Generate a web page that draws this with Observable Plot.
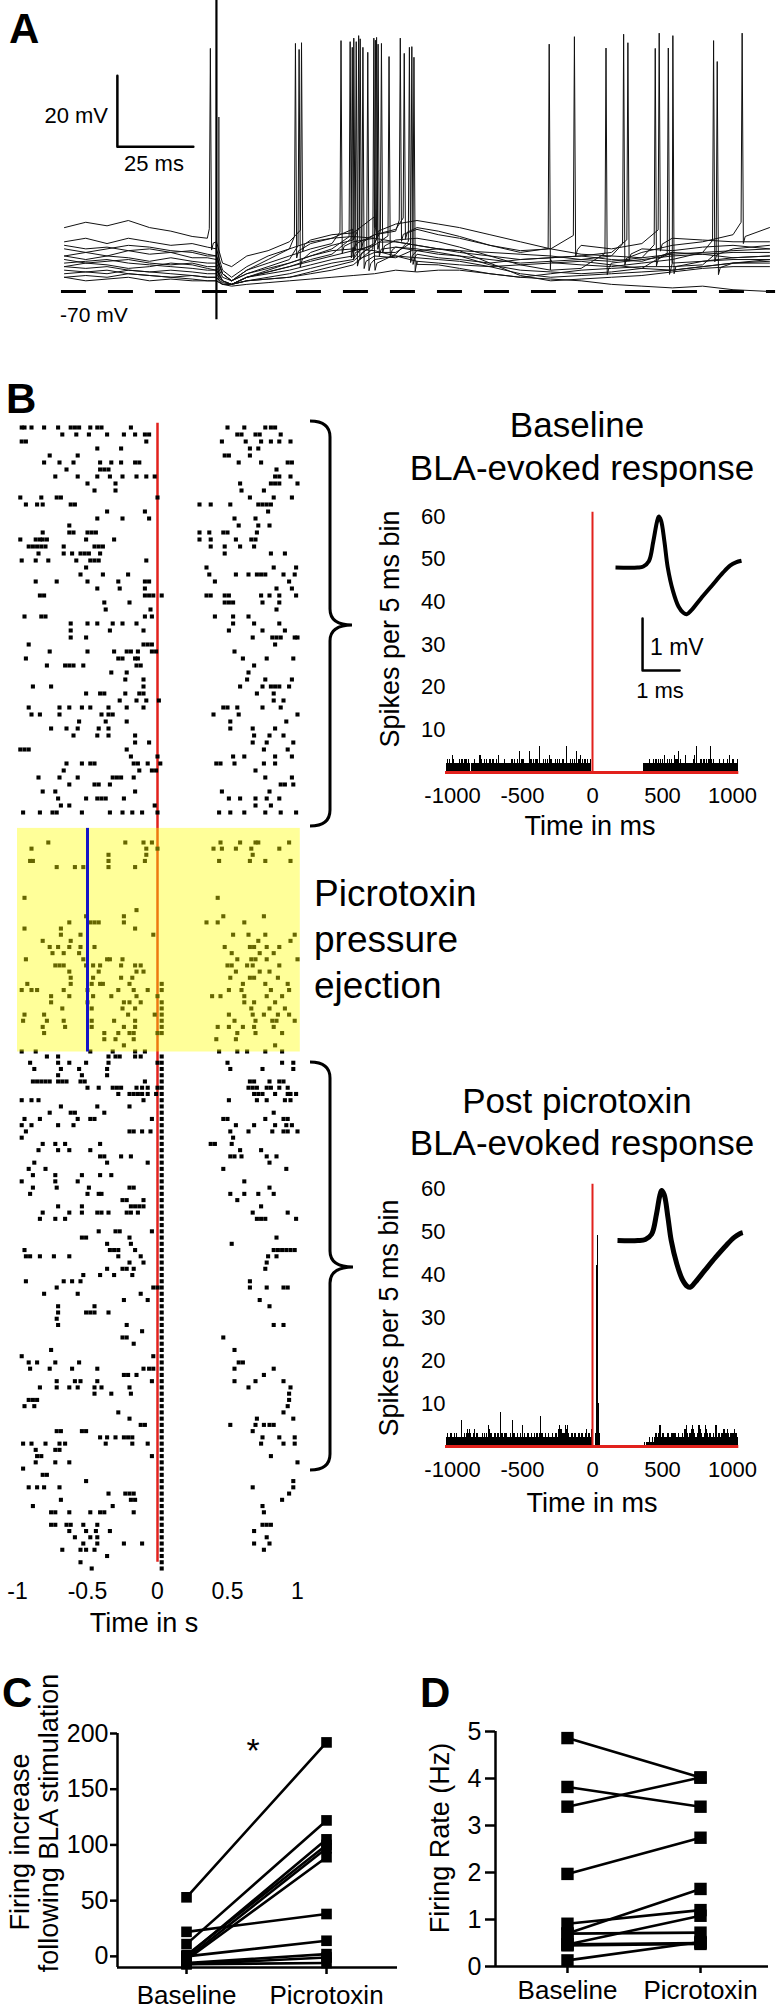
<!DOCTYPE html>
<html><head><meta charset="utf-8">
<script src="https://cdn.jsdelivr.net/npm/d3@7"></script>
<script src="https://cdn.jsdelivr.net/npm/@observablehq/plot@0.6"></script>
<style>
html,body{margin:0;padding:0;background:#fff;}
#fig{position:relative;width:783px;height:2011px;overflow:hidden;background:#fff;}
#fig svg{overflow:visible;}
</style></head><body><div id="fig"></div>
<script>
// ---------------- DATA ----------------
// Panel A: membrane potential traces (mV) at knot times (ms), spike times/peaks
const traceTimes = [-50,-43,-36,-29,-22,-15,-8,-3,0,2,5,10,17,24,31,38,45,52,59,66,73,80,90,100,110,120,130,140,150,160,170,182];
const traceV = [
 [-52,-50.5,-51.5,-50,-52,-53,-54.5,-55,-56,-62,-63,-60,-58.5,-56,-55.5,-54,-53.5,-52,-51,-50,-51,-52,-54,-56,-58,-59.5,-60,-59,-57,-56,-54,-52],
 [-56,-55,-56.5,-55,-56,-57,-56.5,-57.5,-58,-64,-66,-63,-60,-58,-56.5,-55,-55.5,-54,-53,-52.5,-54,-55,-57,-58.5,-58,-57,-58,-56.5,-55,-55.5,-56,-56],
 [-57,-58,-57.5,-58.5,-58,-59,-58.5,-59.5,-60,-65,-67,-64,-62,-60,-58,-56.5,-56,-55,-56,-57,-58,-59,-60,-61,-60.5,-60,-59,-58,-58.5,-57.5,-57,-58],
 [-60,-59,-60,-58.5,-59.5,-59,-60.5,-60.5,-61,-65,-67,-65,-63,-61,-59,-57,-55.5,-54,-52.5,-52,-53,-54.5,-57,-59,-61,-62.5,-63,-62,-61,-59,-58,-57],
 [-60,-61,-60,-60.5,-61.5,-60.5,-61.5,-62,-62,-66,-67,-65,-63.5,-62,-60,-58,-57.5,-57,-57.5,-58.5,-59.5,-60,-61,-62,-61.5,-61,-60,-60.5,-59,-59.5,-60.5,-60],
 [-61,-62,-61.5,-61,-62,-62.5,-62,-63,-63,-67,-68,-66,-64.5,-63,-61,-59.5,-58,-56.5,-55.5,-55,-56,-57.5,-60,-62.5,-64,-63.5,-62,-61,-60,-59.5,-59,-59],
 [-62,-61.5,-61,-62,-62.5,-63,-63.5,-64,-64,-67,-68,-66,-65,-64,-62.5,-61,-60,-59,-59,-59.5,-60.5,-61,-62,-61,-60.5,-60,-61,-61.5,-62,-61.5,-60.5,-60],
 [-63,-63.5,-63,-64,-64.5,-64,-64.5,-65,-65,-67.5,-68,-66,-64.5,-63,-61.5,-60,-58.5,-57,-57.5,-58,-59,-60,-62.5,-64,-64.5,-65,-64.5,-63.5,-62,-61.5,-61,-61],
 [-64,-64.5,-65,-64,-64.5,-65,-65.5,-66,-66,-68,-68,-67,-66,-65,-63.5,-62,-61,-60,-60.5,-61.5,-62.5,-63.5,-65,-66,-65,-64,-63.5,-63,-63,-62.5,-62,-62],
 [-65,-64.5,-64,-65,-65.5,-66,-65.5,-66,-66,-68,-68,-67,-66.5,-66,-64.5,-63,-61.5,-61,-60,-60.5,-61,-61.5,-63,-65,-66,-65.5,-65,-64.5,-64,-63,-62,-61],
 [-66,-65.5,-66,-65,-65.5,-66,-66.5,-67,-67,-68,-68,-67,-66.5,-66,-65,-64,-62.5,-61,-59.5,-58.5,-58,-58.5,-62,-65.5,-67,-66.5,-66,-65.5,-64.5,-63.5,-63,-63],
 [-66,-67,-66.5,-66,-67,-66.5,-67,-67,-67,-68,-68.5,-68,-67.5,-67,-66.5,-66,-65.5,-65,-64,-64.5,-64,-64,-65,-66,-66.5,-67,-68,-68.5,-69,-68.5,-69.5,-70],
 [-58,-59,-58,-57,-57.5,-58.5,-59,-60,-60,-65,-67,-64,-61,-58,-56,-55,-54.5,-55,-56,-57,-58,-58.5,-59,-59.5,-60,-61,-61.5,-60.5,-59.5,-59,-58.5,-58],
 [-63,-62,-62.5,-63.5,-63,-62,-62.5,-63.5,-64,-67,-68,-66,-64,-62,-60,-58.5,-58,-58.5,-60,-61.5,-62,-62.5,-63,-62.5,-62,-61.5,-62.5,-63.5,-64,-63,-62,-61.5]
];
const spikeTrace = [0,1,3,0,2,4,5,1,6,7,3,8,9,10,0,2,4,5,7,1,3,10,6,8,3,1,5,0,2,4,1,7,6,3,8,0];
const spikeTime  = [-2,26,27.2,28,41,44,44.7,45.2,46,46.8,47.3,48.2,49.8,51.8,52.3,52.7,53.2,54.3,56.8,60.5,61.8,63.5,64.3,65,109.5,117.8,128.2,134,135.4,144.4,145.7,148.7,150.2,163.6,164.8,173];
const spikePeak  = [-1.5,-0.1,-1.8,0.1,0.7,0.4,-1.2,1.4,0.4,2.1,1.2,-1.2,-2.6,1.4,0.8,1.6,-0.3,-0.1,-3.8,1.4,-2.9,-1.2,-1,-4,-0.3,1.8,-1.4,2.5,0.1,-1.5,2.8,-1.4,2.1,0.7,-5.2,2.8];
const restingLevel = -70;           // dashed line, mV
const scaleBarA = {t0: -32.6, v0: -29.2, dt: 25, dv: 20};   // 25 ms, 20 mV

// Panel B raster: spike times in hundredths of a second, one string per trial
const baselineTrials = [
"-97 -95 -90 -81 -71 -62 -59 -56 -48 -43 -40 -19 50 62 77 81 84",
"-68 -58 -49 -36 -24 -16 -9 -6 57 60 70 73 88",
"-97 -94 -8 46 63 74 81 87 95",
"-43 -26 66 72",
"-77 -57 48 51 66",
"-81 -70 -60 -41 -33 -26 -16 -13 58 74 93 96",
"-65 -41 -38 -35 85",
"-73 -57 -43 -34 -25 -15 -8 -2 84 87 95",
"-50 -30 59 81 84 87 100",
"-45 -30 60 76",
"-98 -83 -72 -69 0 66 83 96",
"-94 -86 -82 -62 -59 30 38 52 72 75 78 81",
"-36 -9 79",
"-43 -25 -6 55 70",
"-63 58 72 80",
"-82 -63 -60 -50 -47 -44 30 37 47 50 71",
"-98 -87 -84 -82 -79 -51 -31 30 38 56 67 70",
"-92 -89 -86 -83 -80 -67 -45 -42 -39 38 48 59 69",
"-85 -67 -61 -55 -52 -49 -41 48 81 91",
"-97 -87 -78 -58 -48 -45 -42 -8",
"-51 35 83 99",
"-55 -39 -21 37 56 65 71 74 77 90 98",
"-87 -72 -50 -28 -9 -6 41 94",
"-43 -27 -9 85 96",
"-84 -81 -9 -6 -3 3 35 38 48 51 74 80 87 99",
"-38 -20 48 51 54 75 87",
"-37 -5 85",
"-95 -83 -80 -9 -4 41 54 65",
"-62 -50 -43 -32 -25 -15 54 69 87",
"-62 -34 -10 51 75 91",
"-62 -51 68 82 85 88 98 100",
"-92 -10 -7 -4 84",
"-77 -50 -31 -22 -19 -14 -4 -1 55",
"-94 -28 -25 -16 -14 61 78 97",
"-79 -66 -63 -60 -53 -15 -12 69",
"-33 -22 65",
"-23 -10 64 77 96",
"-89 -76 -10 59 75 81 84 87 94",
"-51 -41 -38 -23 -13 -10 71 83",
"-27 -15 -8 1 83 90",
"-92 -70 -63 -54 -48 -35 -22 -10 47 50 57 75 88",
"-90 -84 -70 -40 -35 -32 40 58 100",
"-56 -37 -22 52 92",
"-76 -65 -57 -42 -35 52 68 84",
"-60 -43 -35 -16 69 80 90",
"-16 -6 68 78 97",
"-98 -95 -92 -22 76 93",
"-19 0 54 62 84 96",
"-65 -54 -48 -45 -17 -14 -7 2 42 45 55 76 84",
"-67 -13 -4 -1 70",
"-85 -70 -57 -32 -29 -26 -17 77 96",
"-63 -45 -42 -34 88 91 97",
"-82 -73 -16 46 80",
"-71 -51 -43 -40 -37 -24 51 59 70 78 87",
"-69 -63 -2 70 81",
"-96 -84 -75 -72 -54 -34 -25 -18 -11 0 44 52 62 77 88 99"
];
const picrotoxinTrials = [
"-78 -23 -10 -4 45 59 70 72 94",
"-90 -8 0 40 46 56 67 87",
"-35 -8 68",
"-91 -89 -35 -9 44 66 77 95",
"-72 -59 -53 -35 -16",
"", "", "", "",
"-95 43",
"",
"-15",
"-51 -24 47 76",
"-63 -48 -45 -42 -24 35 43 62",
"-95 -69 -16",
"-69 -55 -3 54 65 77 98",
"-82 -62 72 95",
"-77 -71 -63 -55 -45 48 66 69 78 87",
"-75 -67 -56 53 73 83",
"-94 -53 -36 -34 -25 57 67 70 78 100",
"-73 -70 -67 -51 -46 -41 -26 -16 -12 50 53 64 68 87",
"-63 -42 -15 -10 56 73 80",
"-62 -46 -26 -18 52 66 69 86",
"-93 -62 -47 -41 -39 -20 3 61 77 93",
"-97 -90 -86 -67 -50 -28 -17 -7 3 51 60 81 94",
"-76 -63 -46 -33 -15 0 39 45 62 78 89",
"-76 -50 -24 -20 -12 3 62 69 84",
"-68 -47 -25 -16 3 67 80 91",
"-95 -81 -21 -2 3 51 68 76 86 94",
"-96 -79 -67 -47 -31 -16 3 55 70 82 85 98",
"-82 -66 -47 -24 -16 3 43 51 61 69 83",
"-81 -38 -28 -20 -17 0 3 57 70 89",
"-38 -30 -17 42 56",
"-24 84",
"-97 -87 -48 -32 -16 -9 44 57 64 77 89"
];
const postTrials = [
"-79 -71 -35 -30 -27 -16 -12 3",
"-91 -71 -63 -51 -35 0 3 50 89 97",
"-88 -69 -56 -36 3 52 75 97",
"-71 -54 -36 3",
"-89 -86 -83 -80 -77 -71 -68 -65 -55 -52 -9 3 66 69 80 87 90",
"-50 -42 -32 -29 -26 -15 -11 -7 0 3 65 68 71 78 81 87 93",
"-28 -20 -17 -14 -11 -7 -1 3 69 72 75 84 93 95 99",
"-97 -90 -85 -10 3 51 71 78 91 95",
"-69 -43 -20 3",
"-77 -62 -59 -38 3 83",
"-95 -84 -57 -48 -45 -4 3 47 50 77 90 93",
"-97 -90 -71 -60 3 56 69 84 92 96",
"-94 -20 -17 -11 -5 3 52 65 82 90 93 100",
"-97 3 54",
"-82 -73 -66 -41 3 38 41 53",
"-85 -71 -63 -48 3 59 74",
"-41 -38 -26 -19 3 52 55 60 78 85",
"-88 -36 -7 3 80",
"-92 -80 3 47 92",
"-89 -73 -54 -41 -33 3",
"-97 -73 -57 3 62",
"-89 -72 -49 -20 -17 3 80",
"-91 -50 -42 -40 3 52 62 72 83",
"-25 -22 -10 3 57",
"-71 -54 -19 -16 -13 -10 3 74",
"-82 -63 -54 -43 -40 -35 -22 -19 -14 3 68 93",
"-84 -73 -66 3 71 74 77 99",
"3",
"-42 -30 -27 -4 3",
"-54 -51 -20 3 85",
"-36 -19 3 53",
"-95 -34 -31 -28 -16 3 83 86 89 92 95 98",
"-94 -91 -84 -74 -63 -28 -12 3 79 85",
"-20 -10 3 78",
"-36 -25 -22 -17 3 77",
"-53 -41 -31 -18 3",
"-94 -67 -61 -55 3 66",
"-72 -3 0 3 66 78 90 93",
"-81 -57 -12 3",
"-24 -7 3 73",
"-71 -45 3 80",
"-71 -51 -48 -45 -35 3",
"-72 3",
"-71 -22 3 83 90",
"-11 3",
"-25 -22 3 47",
"-17 3",
"-76 3 55",
"-97 -3 3",
"-92 -86 -73 -56 3 58 61",
"-91 -77 -61 -43 -10 -6 -3 3 55 83",
"-24 -21 -15 3 76",
"-72 -59 -55 -43 -4 3 55 70 90",
"-84 -72 -63 -57 -45 -40 -20 3 65 95",
"-45 -33 -19 3 94",
"-92 -89 -86 3 94",
"-95 -88 3 93",
"-28 3 90",
"-20 3 71 97",
"-12 -9 3 52 70 76 80 83",
"-72 -69 -54 -51 3 68",
"-41 -36 -30 -24 -21 -18 3 75 87 98",
"-96 -90 -80 -70 -66 -37 -18 -7 3 74 90 98",
"-87 -73 -70 3",
"-86 -83 -4 3 81",
"-87 -73 -63 3 100",
"-96 3",
"-82 -79 3",
"-51 3 97",
"-92 -86 -81 -70 3 68 97",
"-35 -23 -20 -17 3 94",
"-69 -19 -16 3 89",
"-89 -32 3 75",
"-76 -73 -63 -48 -41 -38 -17 3 76",
"3",
"-76 -73 -65 -62 -53 -43 3 75 78 81",
"-63 -51 -44 -34 3 69",
"-59 -48 -43 3 78",
"-53 -43 -24 -11 3 69 80",
"-68 -55 -51 -45 3 76",
"-36 3",
"-55 3",
"-47 3"
];
const ejection = {t1: -1.0, t2: 1.02, trial1: 55.53, trial2: 90.1, pressure: -0.5};
const rasterTicks = [-1, -0.5, 0, 0.5, 1];

// PSTH: spikes per 5 ms bin, bins starting at -1050 ms
const binWidth = 5, histStart = -1050;
const baselineLeft = "0023223232" +
 "42322322023223322343" + "32232202322332232224" + "42322032232223322323" + "23232242322322332232" +
 "23223232232323235223" + "32322322325233223223" + "32326322323223223224" + "32322323223223232323" +
 "23262322332232322562" + "32342232233223222320";
const baselineRight =
 "00000000000000000000" + "00000000000000000000" + "00000000000000000020" + "00000000000202202232" +
 "22322323223232332322" + "32242323223223232423" + "32352232322324232232" + "23223342362322323223" +
 "32232233263223232232" + "23322423322323224232" + "323224232";
const postLeft = "0023232323" +
 "23232232322326232322" + "32434232323242323232" + "23232232732354323222" + "32323232383232323342" +
 "23232663232323252342" + "53232323232423232322" + "32323273232323232322" + "23232323232545454323" +
 "32545432323232323262" + "32323232323242323254";
const postRight = [
 0,0,0,0,3,10,42,49,28,10,3,0,0,0,0,0,0,0,0,0,
 0,0,0,0,0,0,0,0,0,0,0,0,0,0,0,0,0,0,0,0,
 0,0,0,0,0,0,0,0,0,0,0,0,0,0,0,0,0,0,0,0,
 0,0,0,0,0,0,0,0,0,0,0,0,0,0,1,1,0,1,1,1,
 1,1,2,1,1,2,2,1,2,2,3,2,3,2,3,3,5,5,3,2,
 3,2,3,2,2,3,2,3,2,3,2,3,2,3,3,2,3,3,5,3,
 2,3,2,3,2,3,2,2,3,3,2,3,4,4,5,4,3,2,3,3,
 3,2,4,5,4,4,3,2,3,2,3,4,5,5,4,3,3,2,3,2,
 3,4,5,4,3,2,2,3,2,3,2,3,2,3,2,4,5,5,3,2,
 3,2,3,2,3,2,3,4,4,4,3,2,3,4,3,3,2,3,2,3,
 3,2,3,4,3,2,3,2,3
];
const histTicksX = [-1000, -500, 0, 500, 1000];
const histTicksY = [10, 20, 30, 40, 50, 60];

// Spike waveform insets (ms, mV)
const wave1T = [0,0.6,0.75,0.9,1.02,1.12,1.17,1.23,1.32,1.41,1.55,1.7,1.83,1.92,2.05,2.3,2.6,2.9,3.1,3.25,3.4];
const wave1V = [0,0,0.02,0.12,0.5,0.88,0.98,0.9,0.5,0,-0.45,-0.75,-0.87,-0.9,-0.82,-0.6,-0.35,-0.1,0.04,0.1,0.13];
const wave2T = [0,0.55,0.75,0.92,1.05,1.14,1.19,1.26,1.36,1.45,1.6,1.75,1.88,1.96,2.1,2.35,2.65,2.95,3.15,3.3,3.38];
const wave2V = [0,0,0.02,0.12,0.5,0.86,0.96,0.88,0.45,0,-0.45,-0.75,-0.88,-0.9,-0.8,-0.58,-0.32,-0.08,0.06,0.13,0.15];
const scaleBarB = {t0: 0.73, v0: -1.98, dt: 1, dv: 1};

// Panels C and D
const condNames = ["Baseline", "Picrotoxin"];
const cBaseline = [53, 22, 11, 0, 1, -2, -3, 0, -6, -7, -7];
const cPicro    = [192, 38, 122, 105, 100, 97, 89, 14, 2, -1, -6];
const cTicks = [0, 50, 100, 150, 200];
const dBaseline = [4.86, 3.82, 3.40, 1.97, 0.91, 0.70, 0.47, 0.70, 0.47, 0.45, 0.13];
const dPicro    = [4.02, 3.40, 4.02, 2.74, 1.20, 1.65, 1.08, 0.72, 0.50, 0.48, 0.52];
const dTicks = [0, 1, 2, 3, 4, 5];

// ---------------- RENDER ----------------
const FONT = '"Liberation Sans", Arial, Helvetica, sans-serif';
const RED = "#e2211c";
const fig = document.getElementById("fig");
const baseStyle = {fontFamily: FONT, fontSize: "22px", background: "transparent", overflow: "visible", color: "black"};
function mount(el, left, top) {
  el.style.position = "absolute"; el.style.left = left + "px"; el.style.top = top + "px";
  el.style.maxWidth = "none";
  fig.appendChild(el);
}

// Panel A
const tracePts = [];
traceV.forEach((vals, i) => {
  const interp = d3.scaleLinear().domain(traceTimes).range(vals);
  const pts = traceTimes.map((t, k) => ({trace: i, t, v: vals[k]}));
  spikeTrace.forEach((tr, s) => {
    if (tr !== i) return;
    const ts = spikeTime[s], vb = interp(ts);
    pts.push({trace: i, t: ts - 0.35, v: vb + 3});
    pts.push({trace: i, t: ts, v: spikePeak[s]});
    pts.push({trace: i, t: ts + 0.4, v: vb - 3});
    pts.push({trace: i, t: ts + 1.0, v: vb - 1});
  });
  pts.sort((a, b) => a.t - b.t);
  tracePts.push(...pts);
});
const sbA = [
  {t: scaleBarA.t0, v: scaleBarA.v0 + scaleBarA.dv},
  {t: scaleBarA.t0, v: scaleBarA.v0},
  {t: scaleBarA.t0 + scaleBarA.dt, v: scaleBarA.v0}
];
mount(Plot.plot({
  width: 783, height: 330, marginLeft: 64, marginRight: 14, marginTop: 0, marginBottom: 0,
  x: {domain: [-50, 182], axis: null}, y: {domain: [-81, 12], axis: null},
  style: baseStyle,
  marks: [
    Plot.ruleY([restingLevel], {x1: -51, x2: 184, stroke: "black", strokeWidth: 3, strokeDasharray: "25,22"}),
    Plot.line(tracePts, {x: "t", y: "v", z: "trace", stroke: "#111", strokeWidth: 1}),
    Plot.ruleX([0], {y1: -78, y2: 12, stroke: "black", strokeWidth: 2.2}),
    Plot.ruleX([0.8], {y1: -67, y2: -21, stroke: "black", strokeWidth: 1.2}),
    Plot.line(sbA, {x: "t", y: "v", stroke: "black", strokeWidth: 2.5})
  ]
}), 0, 0);

// Panel B raster (trial order mapped to vertical depth; sections have different row spacing)
const parse = s => s.trim() ? s.trim().split(/\s+/).map(Number) : [];
const allTrials = [...baselineTrials, ...picrotoxinTrials, ...postTrials];
const nB = baselineTrials.length, nP = picrotoxinTrials.length, nA = allTrials.length;
const depth = d3.scaleLinear()
  .domain([0, nB - 1, nB, nB + nP - 1, nB + nP, nA - 1])
  .range([0, 385, 415, 624, 629, 1141]);
const spikesRaster = allTrials.flatMap((s, i) => parse(s).map(h => ({d: depth(i), t: h / 100})));
const ej = {t1: ejection.t1, t2: ejection.t2, d1: depth(ejection.trial1), d2: depth(ejection.trial2), pressure: ejection.pressure};
mount(Plot.plot({
  width: 320, height: 1280, marginLeft: 17, marginRight: 23, marginTop: 47, marginBottom: 92,
  x: {domain: [-1, 1]},
  y: {domain: [0, 1141], reverse: true, axis: null},
  style: baseStyle,
  marks: [
    Plot.ruleX([0], {y1: depth(-0.6), y2: depth(nA - 2), stroke: RED, strokeWidth: 2.5}),
    Plot.dot(spikesRaster, {x: "t", y: "d", symbol: "square", r: 2.3, fill: "black", stroke: "none"}),
    Plot.rect([ej], {x1: "t1", x2: "t2", y1: "d1", y2: "d2", fill: "#ffff00", fillOpacity: 0.4}),
    Plot.ruleX([ej], {x: "pressure", y1: "d1", y2: "d2", stroke: "#1414c8", strokeWidth: 3}),
    Plot.axisX({ticks: rasterTicks, tickFormat: d => String(d), tickSize: 0, tickPadding: 14, fontSize: 23, label: null})
  ]
}), 0, 380);

// PSTHs
function psth(counts, top, marginTop) {
  const bins = counts.map((n, i) => ({t: histStart + i * binWidth, n}));
  bins.push({t: histStart + counts.length * binWidth, n: counts[counts.length - 1]});
  return mount(Plot.plot({
    width: 453, height: 360, marginLeft: 122, marginRight: 51, marginTop, marginBottom: 68,
    x: {domain: [-1000, 1000]}, y: {domain: [0, 60]},
    style: baseStyle,
    marks: [
      Plot.areaY(bins, {x: "t", y: "n", curve: "step-after", fill: "black", shapeRendering: "crispEdges"}),
      Plot.ruleY([0], {x1: histStart, x2: histStart + counts.length * binWidth, stroke: RED, strokeWidth: 3}),
      Plot.ruleX([0], {y1: 0, y2: 61, stroke: RED, strokeWidth: 2}),
      Plot.axisX({ticks: histTicksX, tickFormat: d => String(d), tickSize: 0, tickPadding: 15, fontSize: 22, label: null}),
      Plot.axisY({ticks: histTicksY, tickFormat: d => String(d), tickSize: 0, tickPadding: 7, fontSize: 22, label: null})
    ]
  }), 330, top);
}
psth([...baselineLeft.split("").map(Number), ...baselineRight.split("").map(Number)], 480, 36);
psth([...postLeft.split("").map(Number), ...postRight], 1154, 34);

// Waveform insets
const w1 = wave1T.map((t, i) => ({t, v: wave1V[i]}));
const w2 = wave2T.map((t, i) => ({t, v: wave2V[i]}));
const sbB = [
  {t: scaleBarB.t0, v: scaleBarB.v0 + scaleBarB.dv},
  {t: scaleBarB.t0, v: scaleBarB.v0},
  {t: scaleBarB.t0 + scaleBarB.dt, v: scaleBarB.v0}
];
mount(Plot.plot({
  width: 160, height: 220, margin: 0,
  x: {domain: [0, 3.4], range: [15, 141], axis: null},
  y: {domain: [-2.6, 1.3], range: [212.2, 9.4], axis: null},
  style: baseStyle,
  marks: [
    Plot.line(w1, {x: "t", y: "v", curve: "catmull-rom", stroke: "black", strokeWidth: 4, strokeLinecap: "butt"}),
    Plot.line(sbB, {x: "t", y: "v", stroke: "black", strokeWidth: 2.5})
  ]
}), 600, 490);
mount(Plot.plot({
  width: 160, height: 160, margin: 0,
  x: {domain: [0, 3.4], range: [17, 143], axis: null},
  y: {domain: [-1.5, 1.3], range: [158, 12.4], axis: null},
  style: baseStyle,
  marks: [
    Plot.line(w2, {x: "t", y: "v", curve: "catmull-rom", stroke: "black", strokeWidth: 5, strokeLinecap: "butt"})
  ]
}), 600, 1160);

// Panels C and D
function pairedPlot(base, pic, ticks, yDom, xDom, opts, left) {
  const data = base.flatMap((b, i) => [{unit: i, cond: 0, v: b}, {unit: i, cond: 1, v: pic[i]}]);
  mount(Plot.plot({
    width: opts.width, height: 311, marginLeft: opts.ml, marginRight: opts.mr, marginTop: opts.mt, marginBottom: opts.mb,
    x: {domain: xDom}, y: {domain: yDom},
    style: baseStyle,
    marks: [
      Plot.ruleX([xDom[0]], {stroke: "black", strokeWidth: 2.5}),
      Plot.ruleY([yDom[0]], {stroke: "black", strokeWidth: 2.5}),
      Plot.line(data, {x: "cond", y: "v", z: "unit", stroke: "black", strokeWidth: 2.6}),
      Plot.dot(data, {x: "cond", y: "v", symbol: "square", r: opts.r, fill: "black", stroke: "none"}),
      Plot.axisY({ticks, tickFormat: d => String(d), tickSize: opts.ts, tickPadding: opts.tp, strokeWidth: 2.5, fontSize: 25, label: null}),
      Plot.axisX({ticks: [0, 1], tickFormat: i => condNames[i], tickSize: 7, tickPadding: opts.xp, strokeWidth: 2.5, fontSize: 26, label: null})
    ]
  }), left, 1700);
}
pairedPlot(cBaseline, cPicro, cTicks, [-10, 200], [-0.493, 1.507], {width: 400, ml: 117, mr: 3, mt: 33, mb: 44, r: 6, ts: 7, tp: 2, xp: 11}, 0);
pairedPlot(dBaseline, dPicro, dTicks, [0, 5], [-0.541, 1.511], {width: 393, ml: 105, mr: 15, mt: 31, mb: 45, r: 7, ts: 10, tp: 4, xp: 7}, 390);

// Text annotations and braces
function brace(x0, yT, yB, yM, xs, xt) {
  const r = 16;
  return `M${x0},${yT} Q${xs},${yT} ${xs},${yT + r} L${xs},${yM - r} Q${xs},${yM} ${xt},${yM} Q${xs},${yM} ${xs},${yM + r} L${xs},${yB - r} Q${xs},${yB} ${x0},${yB}`;
}
const ov = document.createElementNS("http://www.w3.org/2000/svg", "svg");
ov.setAttribute("width", 783); ov.setAttribute("height", 2011);
ov.setAttribute("style", `position:absolute;left:0;top:0;font-family:${FONT.replace(/"/g, "'")};`);
ov.innerHTML = `
<text x="9" y="43" font-size="42" font-weight="bold">A</text>
<text x="108" y="123" font-size="22" text-anchor="end">20 mV</text>
<text x="154" y="171" font-size="22" text-anchor="middle">25 ms</text>
<text x="60" y="322" font-size="21">-70 mV</text>
<text x="6" y="413" font-size="42" font-weight="bold">B</text>
<text x="577" y="437" font-size="35" text-anchor="middle">Baseline</text>
<text x="582" y="480" font-size="35" text-anchor="middle">BLA-evoked response</text>
<text transform="translate(399,629) rotate(-90)" font-size="27" text-anchor="middle">Spikes per 5 ms bin</text>
<text x="590" y="835" font-size="27" text-anchor="middle">Time in ms</text>
<text x="650" y="655" font-size="23">1 mV</text>
<text x="660" y="698" font-size="22" text-anchor="middle">1 ms</text>
<text x="314" y="906" font-size="37">Picrotoxin</text>
<text x="314" y="952" font-size="37">pressure</text>
<text x="314" y="998" font-size="37">ejection</text>
<text x="577" y="1113" font-size="35" text-anchor="middle">Post picrotoxin</text>
<text x="582" y="1155" font-size="35" text-anchor="middle">BLA-evoked response</text>
<text transform="translate(398,1318) rotate(-90)" font-size="27" text-anchor="middle">Spikes per 5 ms bin</text>
<text x="592" y="1512" font-size="27" text-anchor="middle">Time in ms</text>
<text x="144" y="1632" font-size="27" text-anchor="middle">Time in s</text>
<text x="2" y="1707" font-size="42" font-weight="bold">C</text>
<text x="253" y="1762" font-size="34" text-anchor="middle">*</text>
<text transform="translate(29,1842) rotate(-90)" font-size="27" text-anchor="middle">Firing  increase</text>
<text transform="translate(58,1823) rotate(-90)" font-size="27" text-anchor="middle">following BLA stimulation</text>
<text x="420" y="1707" font-size="42" font-weight="bold">D</text>
<text transform="translate(449,1838) rotate(-90)" font-size="27" text-anchor="middle">Firing Rate (Hz)</text>
<path d="${brace(310, 421, 826, 625, 330, 352)}" fill="none" stroke="black" stroke-width="3"/>
<path d="${brace(310, 1062, 1470, 1267, 330, 353)}" fill="none" stroke="black" stroke-width="3"/>
`;
ov.querySelectorAll("text").forEach(t => t.setAttribute("xml:space", "preserve"));
fig.appendChild(ov);
</script></body></html>
